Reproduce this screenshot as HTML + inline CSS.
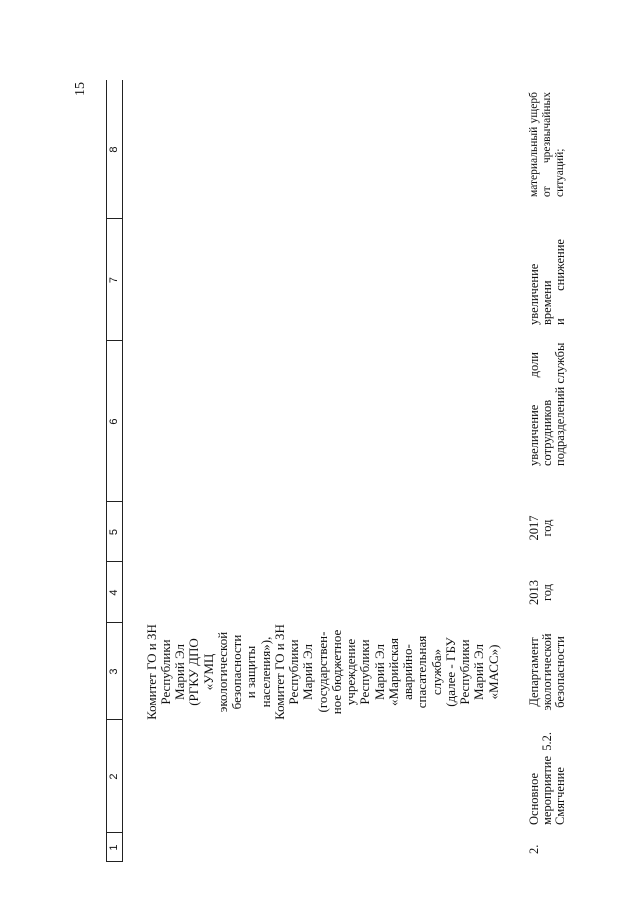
<!DOCTYPE html>
<html><head><meta charset="utf-8"><style>
html,body{margin:0;padding:0;background:#fff;}
body{width:640px;height:904px;overflow:hidden;position:relative;}
#r{position:absolute;left:0;top:0;width:904px;height:640px;transform-origin:0 0;transform:translate(0,904px) rotate(-90deg);font-family:"Liberation Serif",serif;color:#111;}
.t{position:absolute;height:14px;line-height:14px;font-size:12.5px;white-space:nowrap;}
.k{font-size:13px;}
.s{font-size:11.5px;}
.j{text-align:justify;text-align-last:justify;}
.c{text-align:center;}
.ln{position:absolute;background:#222;}
.h{position:absolute;top:106px;height:16px;line-height:16px;font-family:"Liberation Sans",sans-serif;font-size:11px;text-align:center;}
</style></head><body><div id="r">
<div class="t" style="left:808px;top:74px;font-size:14px;">15</div>
<div class="ln" style="left:42px;top:106px;width:782px;height:1px;"></div>
<div class="ln" style="left:42px;top:122px;width:782px;height:1px;"></div>
<div class="ln" style="left:42px;top:106px;width:1px;height:16px;"></div>
<div class="ln" style="left:71px;top:106px;width:1px;height:16px;"></div>
<div class="ln" style="left:184px;top:106px;width:1px;height:16px;"></div>
<div class="ln" style="left:281px;top:106px;width:1px;height:16px;"></div>
<div class="ln" style="left:342px;top:106px;width:1px;height:16px;"></div>
<div class="ln" style="left:402px;top:106px;width:1px;height:16px;"></div>
<div class="ln" style="left:563px;top:106px;width:1px;height:16px;"></div>
<div class="ln" style="left:685px;top:106px;width:1px;height:16px;"></div>
<div class="h" style="left:42px;width:29px;">1</div>
<div class="h" style="left:71px;width:113px;">2</div>
<div class="h" style="left:184px;width:97px;">3</div>
<div class="h" style="left:281px;width:61px;">4</div>
<div class="h" style="left:342px;width:60px;">5</div>
<div class="h" style="left:402px;width:161px;">6</div>
<div class="h" style="left:563px;width:122px;">7</div>
<div class="h" style="left:685px;width:139px;">8</div>

<div class="t c k" style="left:172px;width:120px;top:145px;">Комитет ГО и ЗН</div>
<div class="t c k" style="left:172px;width:120px;top:159px;">Республики</div>
<div class="t c k" style="left:172px;width:120px;top:173px;">Марий Эл</div>
<div class="t c k" style="left:172px;width:120px;top:187px;">(РГКУ ДПО</div>
<div class="t c k" style="left:172px;width:120px;top:202px;">«УМЦ</div>
<div class="t c k" style="left:172px;width:120px;top:216px;">экологической</div>
<div class="t c k" style="left:172px;width:120px;top:230px;">безопасности</div>
<div class="t c k" style="left:172px;width:120px;top:244px;">и защиты</div>
<div class="t c k" style="left:172px;width:120px;top:259px;">населения»),</div>
<div class="t c k" style="left:172px;width:120px;top:273px;">Комитет ГО и ЗН</div>
<div class="t c k" style="left:172px;width:120px;top:287px;">Республики</div>
<div class="t c k" style="left:172px;width:120px;top:301px;">Марий Эл</div>
<div class="t c k" style="left:172px;width:120px;top:316px;">(государствен-</div>
<div class="t c k" style="left:172px;width:120px;top:330px;">ное бюджетное</div>
<div class="t c k" style="left:172px;width:120px;top:344px;">учреждение</div>
<div class="t c k" style="left:172px;width:120px;top:358px;">Республики</div>
<div class="t c k" style="left:172px;width:120px;top:373px;">Марий Эл</div>
<div class="t c k" style="left:172px;width:120px;top:387px;">«Марийская</div>
<div class="t c k" style="left:172px;width:120px;top:401px;">аварийно-</div>
<div class="t c k" style="left:172px;width:120px;top:415px;">спасательная</div>
<div class="t c k" style="left:172px;width:120px;top:430px;">служба»</div>
<div class="t c k" style="left:172px;width:120px;top:444px;">(далее - ГБУ</div>
<div class="t c k" style="left:172px;width:120px;top:458px;">Республики</div>
<div class="t c k" style="left:172px;width:120px;top:472px;">Марий Эл</div>
<div class="t c k" style="left:172px;width:120px;top:487px;">«МАСС»)</div>

<div class="t" style="left:50px;top:527px;">2.</div>
<div class="t" style="left:79px;top:527px;">Основное</div>
<div class="t j" style="left:79px;width:93px;top:540px;">мероприятие 5.2.</div>
<div class="t" style="left:79px;top:553px;">Смягчение</div>
<div class="t c" style="left:182px;width:100px;top:527px;">Департамент</div>
<div class="t c" style="left:182px;width:100px;top:540px;">экологической</div>
<div class="t c" style="left:182px;width:100px;top:553px;">безопасности</div>
<div class="t c" style="left:281px;width:61px;top:527px;">2013</div>
<div class="t c" style="left:281px;width:61px;top:540px;">год</div>
<div class="t c" style="left:342px;width:68px;top:527px;">2017</div>
<div class="t c" style="left:342px;width:68px;top:540px;">год</div>
<div class="t j" style="left:438px;width:114px;top:527px;">увеличение доли</div>
<div class="t" style="left:438px;top:540px;">сотрудников</div>
<div class="t j" style="left:438px;width:118px;top:553px;">подразделений службы</div>
<div class="t" style="left:579px;top:527px;">увеличение</div>
<div class="t" style="left:579px;top:540px;">времени</div>
<div class="t j" style="left:579px;width:86px;top:553px;">и снижение</div>
<div class="t j s" style="left:707px;width:105px;top:527px;">материальный ущерб</div>
<div class="t j s" style="left:707px;width:105px;top:540px;">от чрезвычайных</div>
<div class="t s" style="left:707px;top:553px;">ситуаций;</div>
</div></body></html>
